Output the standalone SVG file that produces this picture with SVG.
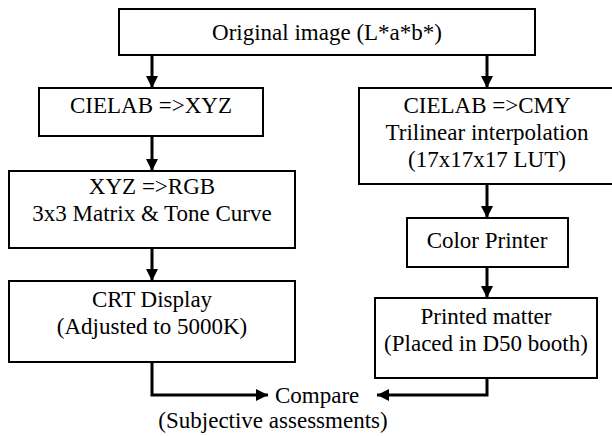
<svg xmlns="http://www.w3.org/2000/svg" width="612" height="436" viewBox="0 0 612 436">
<defs>
<style>
.box{fill:#fff;stroke:#000;stroke-width:2}
.t{font-family:"Liberation Serif","Times New Roman",serif;font-size:23px;fill:#000;text-anchor:middle}
.c{fill:none;stroke:#000;stroke-width:3}
</style>
<marker id="ah" markerUnits="userSpaceOnUse" markerWidth="12" markerHeight="12" refX="12" refY="6" orient="auto">
<path d="M0,0 L12,6 L0,12 z" fill="#000"/>
</marker>
</defs>
<rect width="612" height="436" fill="#fff"/>
<g id="connectors">
<path class="c" d="M152,55 V88" marker-end="url(#ah)"/>
<path class="c" d="M487,55 V88" marker-end="url(#ah)"/>
<path class="c" d="M152,136 V171" marker-end="url(#ah)"/>
<path class="c" d="M152,248 V281" marker-end="url(#ah)"/>
<path class="c" d="M487,184 V218" marker-end="url(#ah)"/>
<path class="c" d="M487,267 V298" marker-end="url(#ah)"/>
<path class="c" d="M152,362 V395 H268" marker-end="url(#ah)"/>
<path class="c" d="M487,378 V395 H377" marker-end="url(#ah)"/>
</g>
<g id="original">
<rect class="box" x="119" y="9" width="416" height="46"/>
<text class="t" x="327" y="40">Original image (L*a*b*)</text>
</g>
<g id="cielab-xyz">
<rect class="box" x="39" y="88" width="224" height="48"/>
<text class="t" x="151" y="113">CIELAB =&gt;XYZ</text>
</g>
<g id="xyz-rgb">
<rect class="box" x="9" y="171" width="286" height="77"/>
<text class="t" x="152" y="194">XYZ =&gt;RGB</text>
<text class="t" x="152" y="221">3x3 Matrix &amp; Tone Curve</text>
</g>
<g id="crt">
<rect class="box" x="9" y="281" width="286" height="81"/>
<text class="t" x="152" y="307">CRT Display</text>
<text class="t" x="152" y="334">(Adjusted to 5000K)</text>
</g>
<g id="cielab-cmy">
<rect class="box" x="359" y="88" width="256" height="96"/>
<text class="t" x="487" y="113">CIELAB =&gt;CMY</text>
<text class="t" x="487" y="140">Trilinear interpolation</text>
<text class="t" x="487" y="167">(17x17x17 LUT)</text>
</g>
<g id="printer">
<rect class="box" x="407" y="218" width="161" height="49"/>
<text class="t" x="487" y="248">Color Printer</text>
</g>
<g id="printed">
<rect class="box" x="375" y="298" width="222" height="80"/>
<text class="t" x="486" y="324">Printed matter</text>
<text class="t" x="486" y="351">(Placed in D50 booth)</text>
</g>
<g id="compare">
<text class="t" x="275" y="403" style="text-anchor:start">Compare</text>
<text class="t" x="273" y="428">(Subjective assessments)</text>
</g>
</svg>
